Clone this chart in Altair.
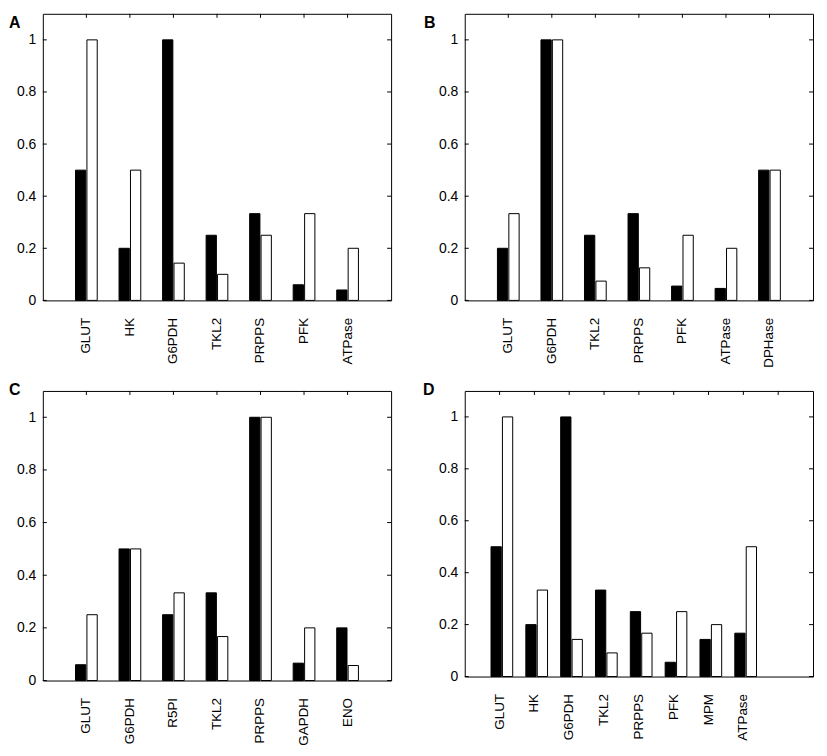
import altair as alt
import pandas as pd

y_ticks = [0, 0.2, 0.4, 0.6, 0.8, 1.0]
series = ["black", "white"]

a_genes = ["GLUT", "HK", "G6PDH", "TKL2", "PRPPS", "PFK", "ATPase"]
a_black = [0.5, 0.2, 1.0, 0.25, 0.333, 0.06, 0.04]
a_white = [1.0, 0.5, 0.143, 0.1, 0.25, 0.333, 0.2]

b_genes = ["GLUT", "G6PDH", "TKL2", "PRPPS", "PFK", "ATPase", "DPHase"]
b_black = [0.2, 1.0, 0.25, 0.333, 0.055, 0.046, 0.5]
b_white = [0.333, 1.0, 0.074, 0.125, 0.25, 0.2, 0.5]

c_genes = ["GLUT", "G6PDH", "R5PI", "TKL2", "PRPPS", "GAPDH", "ENO"]
c_black = [0.06, 0.5, 0.25, 0.333, 1.0, 0.066, 0.2]
c_white = [0.25, 0.5, 0.333, 0.167, 1.0, 0.2, 0.057]

d_genes = ["GLUT", "HK", "G6PDH", "TKL2", "PRPPS", "PFK", "MPM", "ATPase"]
d_black = [0.5, 0.2, 1.0, 0.333, 0.25, 0.055, 0.143, 0.167]
d_white = [1.0, 0.333, 0.143, 0.091, 0.167, 0.25, 0.2, 0.5]

W = 350


def panel(letter, genes, black, white, height, extra_slots, lx, ly):
    domain = genes + [" "] * extra_slots
    rows = []
    for g, b, w in zip(genes, black, white):
        rows.append({"gene": g, "series": "black", "value": b})
        rows.append({"gene": g, "series": "white", "value": w})
    df = pd.DataFrame(rows)

    xaxis = alt.Axis(title=None, labelAngle=270, labelPadding=17, ticks=False,
                     domain=False, labelFontSize=13.5, labelColor="black")
    xscale = alt.Scale(domain=domain, paddingInner=0.475, paddingOuter=0.7375)
    yaxis = alt.Axis(values=y_ticks, format="~g", title=None, ticks=False,
                     domain=False, grid=False, labelPadding=7, labelFontSize=14,
                     labelColor="black")
    yscale = alt.Scale(domain=[0, 1.1], nice=False, zero=True)

    bars = alt.Chart(df).mark_bar(stroke="black", strokeWidth=1).encode(
        x=alt.X("gene:N", scale=xscale, sort=domain, axis=xaxis),
        xOffset=alt.XOffset("series:N", sort=series,
                            scale=alt.Scale(domain=series, paddingInner=0.1, paddingOuter=0.05)),
        y=alt.Y("value:Q", scale=yscale, axis=yaxis),
        fill=alt.Fill("series:N", scale=alt.Scale(domain=series, range=["#000000", "#ffffff"]),
                      legend=None),
    )

    tick_df = pd.DataFrame({"gene": domain})
    top_ticks = alt.Chart(tick_df).mark_rule(color="black", strokeWidth=1).encode(
        x=alt.X("gene:N", scale=xscale, sort=domain, axis=xaxis),
        y=alt.value(0), y2=alt.value(4),
    )

    ydf = pd.DataFrame({"v": y_ticks})
    left_ticks = alt.Chart(ydf).mark_rule(color="black", strokeWidth=1).encode(
        y=alt.Y("v:Q", scale=yscale, axis=yaxis),
        x=alt.value(0), x2=alt.value(4),
    )
    right_ticks = alt.Chart(ydf).mark_rule(color="black", strokeWidth=1).encode(
        y=alt.Y("v:Q", scale=yscale, axis=yaxis),
        x=alt.value(W - 4), x2=alt.value(W),
    )

    label = alt.Chart(pd.DataFrame({"t": [letter]})).mark_text(
        fontWeight="bold", fontSize=16, align="left", baseline="alphabetic",
        color="black", font="Liberation Sans",
    ).encode(text="t:N", x=alt.value(lx), y=alt.value(ly))

    return alt.layer(bars, top_ticks, left_ticks, right_ticks, label).properties(
        width=W, height=height
    )


pA = panel("A", a_genes, a_black, a_white, 288, 0, -34, 14)
pB = panel("B", b_genes, b_black, b_white, 288, 0, -41, 14)
pC = panel("C", c_genes, c_black, c_white, 291, 0, -34, 4)
pD = panel("D", d_genes, d_black, d_white, 287, 1, -42, 4)

chart = alt.concat(
    pA, pB, pC, pD, columns=2, spacing={"row": 91, "column": 74}, bounds="flush"
).properties(
    padding={"left": 0, "top": 3, "right": 5, "bottom": 5}
).configure(
    font="Liberation Sans"
).configure_view(
    stroke="black", strokeWidth=1
)

chart.save("out.html", embed_options={"renderer": "svg", "actions": False})
